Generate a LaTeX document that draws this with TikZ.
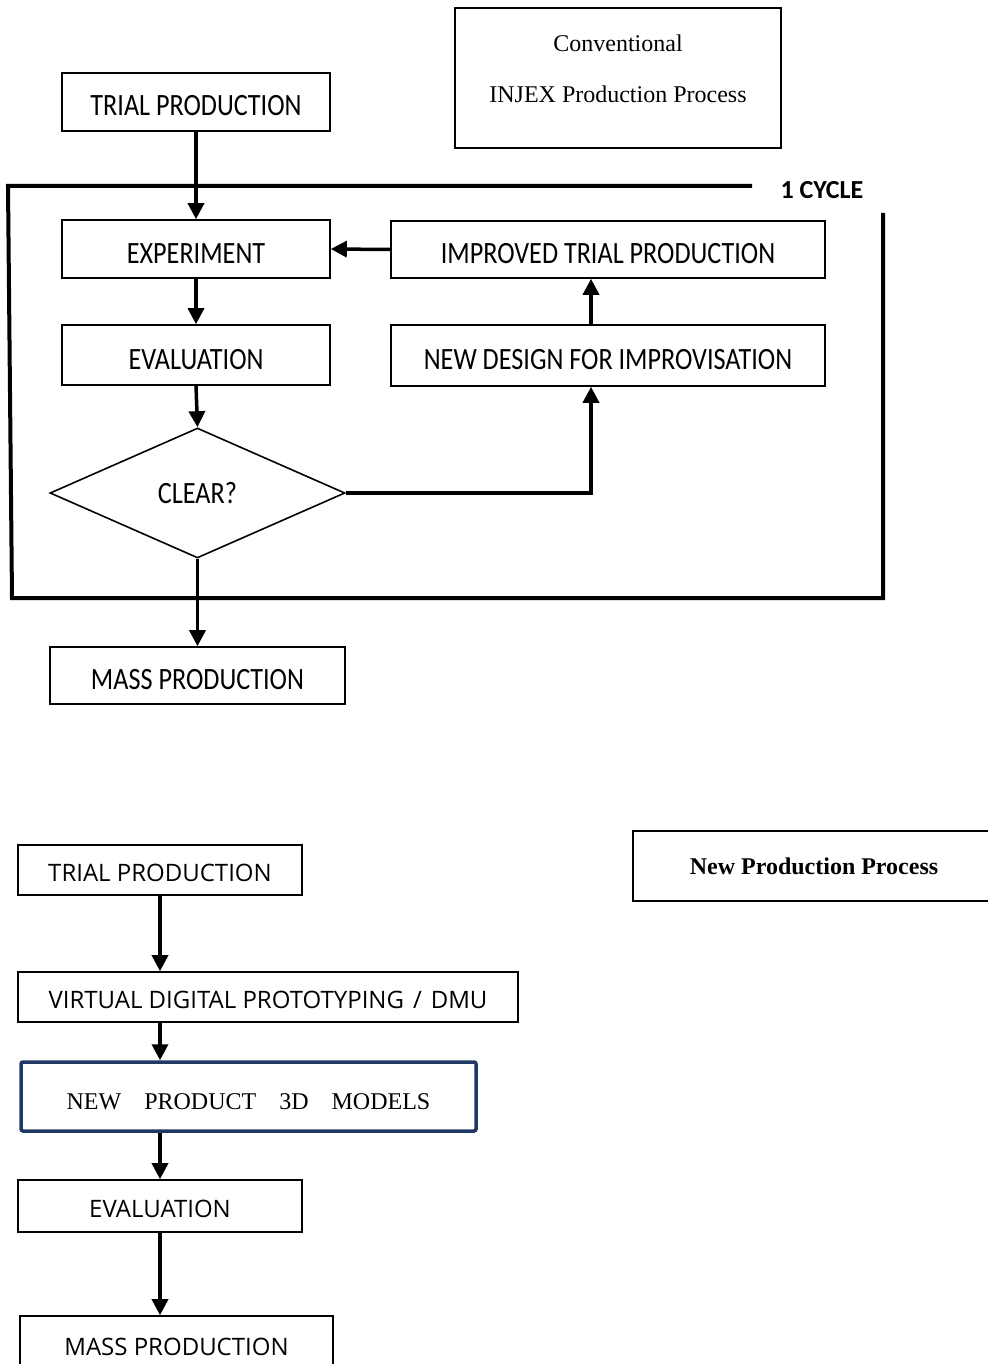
\documentclass[tikz,border=0pt]{standalone}
\usepackage{fontspec}
\setmainfont{Liberation Serif}
\newfontfamily\calf[FakeStretch=0.845]{Carlito}
\newfontfamily\calb{Carlito}
\newfontfamily\segf{Open Sans}
\usetikzlibrary{arrows.meta,shapes.geometric,calc}
\definecolor{navy}{RGB}{31,56,100}
\begin{document}
\begin{tikzpicture}[x=1pt,y=-1pt,
  ubox/.style={draw,line width=1.6pt,inner sep=0pt,text height=28pt,text depth=0pt,font=\calf\fontsize{31}{36}\selectfont},
  lbox/.style={draw,line width=1.6pt,inner sep=0pt,text height=22pt,text depth=0pt,font=\segf\fontsize{24}{28}\selectfont},
  arr/.style={line width=3.5pt,-{Triangle[length=16pt,width=16pt]}},
  cycframe/.style={line width=4pt}]
\useasboundingbox (0,0) rectangle (987,1364);

% ---- conventional process ----
\node[draw,line width=1.6pt,minimum width=326pt,minimum height=140pt,inner sep=0pt,align=center,text depth=19pt,
      font=\fontsize{24}{51}\selectfont] (conv) at (618,78) {Conventional\\INJEX Production Process};

\node[ubox,minimum width=268pt,minimum height=58pt] (tp) at (196,102) {TRIAL PRODUCTION};
\node[ubox,minimum width=268pt,minimum height=58pt] (exp) at (196,249) {EXPERIMENT};
\node[ubox,minimum width=434pt,minimum height=57pt] (imp) at (608,249.5) {IMPROVED TRIAL PRODUCTION};
\node[ubox,minimum width=268pt,minimum height=60pt] (eva) at (196,355) {EVALUATION};
\node[ubox,minimum width=434pt,minimum height=61pt] (nd) at (608,355.5) {NEW DESIGN FOR IMPROVISATION};
\node[ubox,diamond,text height=20pt,minimum width=295pt,minimum height=130pt] (clr) at (197.5,493) {CLEAR?};
\node[ubox,minimum width=295pt,minimum height=57pt] (mass) at (197.5,675.5) {MASS PRODUCTION};
\node[font=\calb\bfseries\fontsize{26}{30}\selectfont,inner sep=0pt] (cyc) at (822,190) {1 CYCLE};

\draw[cycframe] (752,186) -- (8,186) -- (12,598) -- (883,598) -- (883,213);

\draw[arr] (tp.south) -- (exp.north);
\draw[arr] (imp.west) -- (exp.east);
\draw[arr] (exp.south) -- (eva.north);
\draw[arr] ([xshift=-17pt]nd.north) -- ([xshift=-17pt]imp.south);
\draw[arr] (eva.south) -- (clr.north);
\draw[arr] (clr.east) -| ([xshift=-17pt]nd.south);
\draw[arr] (clr.south) -- (mass.north);

% ---- new process ----
\node[draw,line width=1.6pt,minimum width=362pt,minimum height=70pt,inner sep=0pt,
      font=\bfseries\fontsize{24}{28}\selectfont] (npp) at (814,866) {New Production Process};

\node[lbox,minimum width=284pt,minimum height=50pt] (tp2) at (160,870) {TRIAL PRODUCTION};
\node[lbox,minimum width=500pt,minimum height=50pt] (vdp) at (268,997) {VIRTUAL DIGITAL PROTOTYPING\hspace{9pt}/\hspace{9pt}DMU};
\node[draw=navy,line width=3.5pt,rounded corners=2pt,minimum width=455pt,minimum height=69pt,inner sep=0pt,
      text height=25pt,text depth=0pt,
      font=\fontsize{24}{28}\selectfont] (np3) at (248.5,1096.5)
      {NEW\hspace{23pt}PRODUCT\hspace{23pt}3D\hspace{23pt}MODELS};
\node[lbox,minimum width=284pt,minimum height=52pt] (eva2) at (160,1206) {EVALUATION};
\node[lbox,minimum width=313pt,minimum height=56pt] (mass2) at (176.5,1344) {MASS PRODUCTION};

\draw[arr] (tp2.south -| eva2) -- (vdp.north -| eva2);
\draw[arr] (vdp.south -| eva2) -- (np3.north -| eva2);
\draw[arr] (np3.south -| eva2) -- (eva2.north);
\draw[arr] (eva2.south) -- (mass2.north -| eva2);
\end{tikzpicture}
\end{document}
